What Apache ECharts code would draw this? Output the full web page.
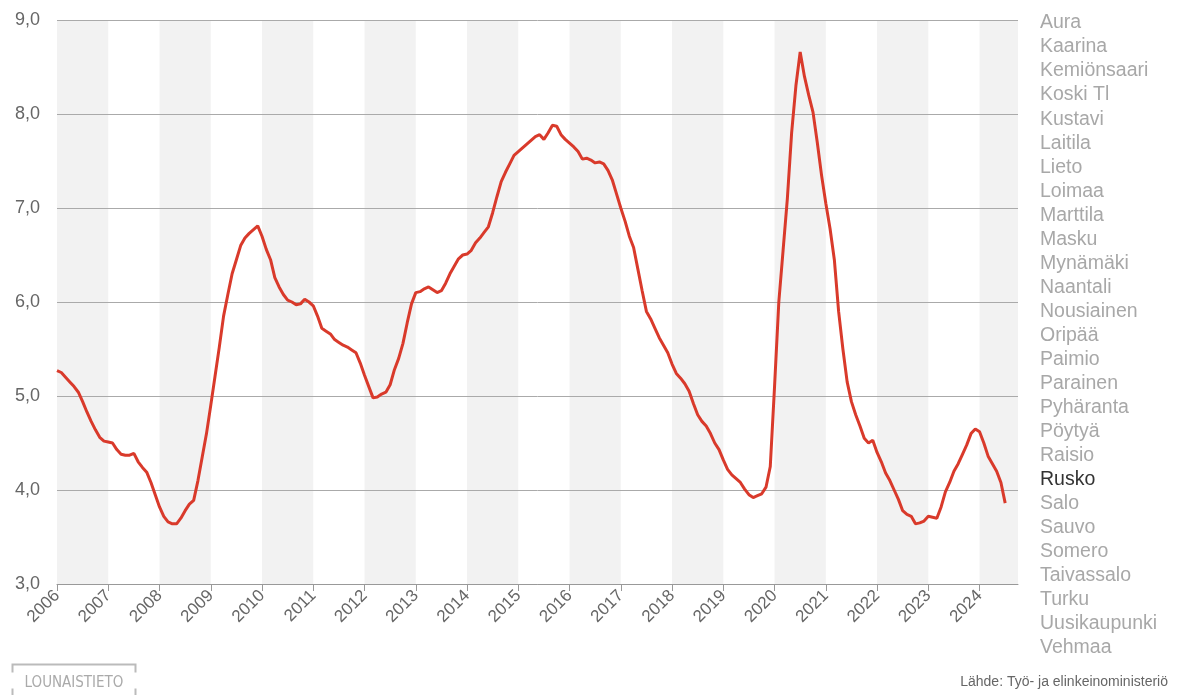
<!DOCTYPE html>
<html>
<head>
<meta charset="utf-8">
<script src="https://cdn.jsdelivr.net/npm/echarts@6/dist/echarts.min.js"></script>
<style>
html,body{margin:0;padding:0;background:#fff;}
#chart{width:1178px;height:695px;}
</style>
</head>
<body>
<div id="chart"></div>
<script>
// ---- DATA ----
const startYear = 2006;
const axisMaxYear = 2024.75;
const yTicks = [3, 4, 5, 6, 7, 8, 9];
const municipalities = ["Aura","Kaarina","Kemiönsaari","Koski Tl","Kustavi","Laitila","Lieto","Loimaa","Marttila","Masku","Mynämäki","Naantali","Nousiainen","Oripää","Paimio","Parainen","Pyhäranta","Pöytyä","Raisio","Rusko","Salo","Sauvo","Somero","Taivassalo","Turku","Uusikaupunki","Vehmaa"];
const selected = "Rusko";
const sourceText = "Lähde: Työ- ja elinkeinoministeriö";
const logoText = "LOUNAISTIETO";
// monthly values, Jan 2006 .. Jul 2024
const v2006 = [5.27,5.25,5.20,5.15,5.10,5.04,4.94,4.83,4.73,4.64,4.56,4.52];
const v2007 = [4.51,4.50,4.43,4.38,4.37,4.37,4.39,4.30,4.24,4.19,4.08,3.95];
const v2008 = [3.82,3.72,3.66,3.64,3.64,3.70,3.78,3.85,3.89,4.10,4.35,4.60];
const v2009 = [4.90,5.21,5.52,5.85,6.08,6.30,6.45,6.60,6.68,6.73,6.77,6.81];
const v2010 = [6.70,6.56,6.45,6.26,6.16,6.08,6.02,6.00,5.97,5.98,6.03,6.00];
const v2011 = [5.96,5.85,5.72,5.69,5.66,5.60,5.57,5.54,5.52,5.49,5.46,5.35];
const v2012 = [5.22,5.10,4.98,4.99,5.02,5.04,5.12,5.28,5.40,5.56,5.78,5.98];
const v2013 = [6.10,6.11,6.14,6.16,6.13,6.10,6.12,6.20,6.30,6.38,6.46,6.50];
const v2014 = [6.51,6.55,6.63,6.68,6.74,6.80,6.95,7.12,7.28,7.38,7.47,7.56];
const v2015 = [7.60,7.64,7.68,7.72,7.76,7.78,7.73,7.80,7.88,7.87,7.78,7.73];
const v2016 = [7.69,7.65,7.60,7.52,7.53,7.51,7.48,7.49,7.47,7.40,7.30,7.15];
const v2017 = [7.00,6.86,6.70,6.58,6.35,6.12,5.90,5.82,5.72,5.62,5.54,5.46];
const v2018 = [5.34,5.24,5.19,5.13,5.05,4.92,4.80,4.73,4.68,4.60,4.50,4.43];
const v2019 = [4.32,4.22,4.16,4.12,4.08,4.01,3.95,3.92,3.94,3.96,4.03,4.25];
const v2020 = [5.10,6.00,6.55,7.10,7.80,8.30,8.66,8.40,8.20,8.02,7.70,7.35];
const v2021 = [7.05,6.78,6.45,5.90,5.50,5.15,4.94,4.80,4.68,4.55,4.50,4.53];
const v2022 = [4.40,4.30,4.18,4.10,4.00,3.90,3.78,3.74,3.72,3.64,3.65,3.67];
const v2023 = [3.72,3.71,3.70,3.82,3.98,4.08,4.20,4.28,4.38,4.48,4.60,4.65];
const v2024 = [4.62,4.50,4.36,4.28,4.20,4.08,3.86];

const monthly = [].concat(v2006,v2007,v2008,v2009,v2010,v2011,v2012,v2013,v2014,v2015,v2016,v2017,v2018,v2019,v2020,v2021,v2022,v2023,v2024);
const seriesData = monthly.map((v, i) => [startYear + i / 12, v]);

// even-year shaded bands
const bands = [];
for (let y = startYear; y < axisMaxYear; y += 2) {
  bands.push([{ xAxis: y }, { xAxis: Math.min(y + 1, axisMaxYear) }]);
}

const chart = echarts.init(document.getElementById('chart'));
const fontFam = 'Liberation Sans, Arial, sans-serif';

const legendTexts = municipalities.map((name, i) => ({
  type: 'text',
  left: 1040,
  top: 13 + i * 24.04,
  style: {
    text: name,
    fill: name === selected ? '#333' : '#a8a8a8',
    font: '19.5px ' + fontFam
  }
}));

chart.setOption({
  animation: false,
  backgroundColor: '#fff',
  grid: { left: 57, top: 20, right: 160, bottom: 111, containLabel: false },
  xAxis: {
    type: 'value',
    min: startYear,
    max: axisMaxYear,
    interval: 1,
    z: 3,
    axisLine: { show: true, lineStyle: { color: '#999', width: 1 } },
    axisTick: { show: true, length: 7, lineStyle: { color: '#999' } },
    splitLine: { show: false },
    axisLabel: {
      rotate: 45,
      color: '#666',
      fontSize: 17,
      fontFamily: fontFam,
      margin: 9,
      showMaxLabel: false,
      formatter: v => (Number.isInteger(v) ? String(v) : '')
    }
  },
  yAxis: {
    type: 'value',
    min: yTicks[0],
    max: yTicks[yTicks.length - 1],
    interval: 1,
    z: 3,
    axisLine: { show: false },
    axisTick: { show: false },
    splitLine: { show: true, lineStyle: { color: '#aaa', width: 1 } },
    axisLabel: {
      color: '#666',
      fontSize: 18,
      fontFamily: fontFam,
      margin: 17,
      formatter: v => v.toFixed(1).replace('.', ',')
    }
  },
  series: [
    {
      name: 'bands',
      type: 'line',
      data: [],
      z: 1,
      silent: true,
      markArea: {
        silent: true,
        itemStyle: { color: '#f2f2f2' },
        data: bands
      }
    },
    {
      name: selected,
      type: 'line',
      data: seriesData,
      z: 5,
      showSymbol: false,
      symbol: 'none',
      lineStyle: { color: '#d93a2b', width: 3 },
      smooth: false
    }
  ],
  graphic: legendTexts.concat([
    {
      type: 'text',
      right: 10,
      top: 675,
      style: { text: sourceText, fill: '#666', font: '14px ' + fontFam }
    },
    {
      type: 'group',
      left: 10,
      top: 662,
      children: [
        { type: 'polyline', shape: { points: [[0,8],[0,0],[123,0],[123,8]] }, style: { stroke: '#bbb', lineWidth: 2, fill: null } },
        { type: 'polyline', shape: { points: [[0,24],[0,33]] }, style: { stroke: '#bbb', lineWidth: 2, fill: null } },
        { type: 'polyline', shape: { points: [[123,24],[123,33]] }, style: { stroke: '#bbb', lineWidth: 2, fill: null } },
        { type: 'text', x: 61.5, y: 19, style: { text: logoText, fill: '#aaa', font: '15px "Liberation Sans Narrow", "DejaVu Sans Condensed", sans-serif', textAlign: 'center', textVerticalAlign: 'middle' } }
      ]
    }
  ])
});
</script>
</body>
</html>
